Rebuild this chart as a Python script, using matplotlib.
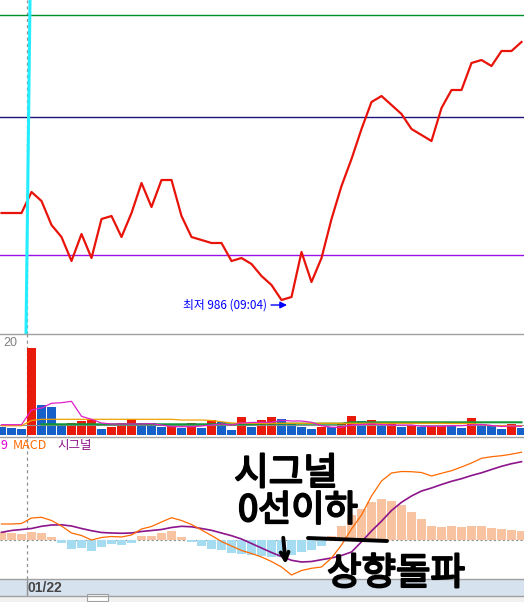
import matplotlib
matplotlib.use("Agg")
from matplotlib import pyplot as plt
import matplotlib.patheffects as pe
from matplotlib.transforms import offset_copy, blended_transform_factory
from matplotlib.patches import Rectangle, FancyArrowPatch
import numpy as np

plt.rcParams['font.family'] = ['Noto Sans CJK KR', 'DejaVu Sans']

# ---- data (one value per bar) ----
price = [1015, 1015, 1015, 1022, 1019, 1011, 1007, 999, 1008, 1000,
         1013, 1014, 1007, 1015, 1025, 1017, 1026, 1026, 1014, 1007,
         1006, 1005, 1005, 999, 1000, 998, 994, 991, 986, 987,
         1002, 992, 1000, 1013, 1024, 1033, 1043, 1052, 1054, 1051,
         1048, 1043, 1041, 1039, 1050, 1056, 1056, 1065, 1066, 1064,
         1069, 1069, 1072]
up = [0, 0, 0, 1, 0, 0, 0, 1, 1, 1,
      0, 1, 1, 1, 0, 0, 0, 1, 0, 1,
      0, 1, 0, 0, 1, 0, 1, 1, 0, 0,
      0, 0, 1, 0, 1, 1, 0, 1, 0, 1,
      0, 1, 0, 1, 1, 0, 0, 1, 0, 0,
      0, 1, 0]
volume = [1.7, 1.5, 1.3, 17.5, 6.0, 5.6, 1.8, 2.4, 2.9, 3.0,
          1.2, 1.6, 2.4, 3.2, 2.4, 2.4, 1.6, 2.0, 1.5, 2.4,
          1.5, 3.0, 2.6, 1.0, 3.6, 1.6, 3.0, 3.6, 3.2, 2.2,
          1.6, 1.2, 1.6, 1.6, 2.2, 3.8, 2.8, 3.0, 1.8, 2.4,
          1.6, 2.0, 1.6, 1.8, 2.0, 2.0, 1.4, 3.4, 2.2, 1.8,
          1.2, 2.2, 1.4]
vol_ma5 = [2.06, 2.06, 2.06, 5.0, 5.4, 6.34, 6.46, 6.74, 3.74, 3.14,
           2.4, 2.2, 2.2, 2.2, 2.2, 2.26, 2.0, 1.66, 1.66, 1.66,
           1.8, 2.0, 2.2, 2.0, 2.4, 2.5, 2.54, 2.54, 2.94, 2.8,
           2.8, 2.54, 1.86, 1.54, 1.54, 2.0, 2.1, 2.2, 2.1, 2.0,
           2.0, 2.0, 1.74, 1.74, 1.74, 1.86, 1.86, 2.0, 2.1, 1.9,
           1.7, 1.8, 1.74]
vol_ma20 = [1.86, 1.86, 1.86, 2.9, 3.14, 3.14, 3.14, 3.14, 3.14, 3.14,
            3.14, 3.14, 3.14, 3.14, 3.14, 3.14, 3.14, 3.14, 3.0, 3.0,
            3.0, 2.9, 2.66, 2.4, 2.34, 2.34, 2.34, 2.34, 2.34, 2.34,
            2.34, 2.34, 2.34, 2.34, 2.34, 2.34, 2.34, 2.34, 2.34, 2.34,
            2.34, 2.34, 2.34, 2.34, 2.34, 2.3, 2.3, 2.3, 2.1, 1.86,
            1.86, 1.86, 1.86]
vol_ma60 = [np.nan, np.nan, np.nan, np.nan, 2.14, 2.14, 2.14, 2.14, 2.14, 2.14,
            2.14, 2.14, 2.14, 2.14, 2.14, 2.14, 2.14, 2.14, 2.14, 2.14,
            2.14, 2.14, 2.14, 2.14, 2.14, 2.14, 2.26, 2.26, 2.26, 2.26,
            2.26, 2.26, 2.26, 2.26, 2.26, 2.54, 2.54, 2.54, 2.54, 2.54,
            2.54, 2.54, 2.54, 2.54, 2.54, 2.54, 2.54, 2.54, 2.54, 2.54,
            2.54, 2.54, 2.54]
vol_base = 2.05

macd = [1.60, 1.60, 1.65, 2.20, 2.27, 1.95, 1.40, 0.70, 0.45, 0.00,
        0.25, 0.35, 0.30, 0.50, 1.10, 1.35, 1.80, 2.23, 1.95, 1.55,
        1.00, 0.45, -0.15, -0.60, -1.05, -1.35, -1.70, -2.15, -2.70, -3.50,
        -3.05, -2.83, -2.70, -1.80, -0.50, 1.10, 2.50, 4.40, 5.90, 6.70,
        6.85, 6.83, 6.75, 6.40, 6.67, 6.93, 7.30, 7.70, 8.17, 8.33,
        8.43, 8.58, 8.78]
signal = [0.77, 0.95, 1.05, 1.15, 1.37, 1.50, 1.52, 1.40, 1.15, 0.93,
          0.75, 0.70, 0.67, 0.70, 0.85, 0.95, 1.05, 1.25, 1.37, 1.32,
          1.15, 0.97, 0.70, 0.43, 0.10, -0.35, -0.80, -1.25, -1.65, -2.03,
          -2.20, -2.15, -1.97, -1.80, -1.55, -1.20, -0.18, 0.90, 1.88, 2.95,
          3.77, 4.40, 4.90, 5.20, 5.55, 5.87, 6.13, 6.45, 6.72, 7.05,
          7.37, 7.63, 7.83]
hist = [0.77, 0.70, 0.60, 0.80, 0.70, 0.30, -0.30, -0.90, -0.80, -1.10,
        -0.70, -0.40, -0.50, -0.30, 0.40, 0.40, 0.70, 0.90, 0.30, -0.20,
        -0.60, -0.90, -1.00, -1.30, -1.40, -1.50, -1.60, -1.70, -1.70, -1.50,
        -1.20, -1.00, -0.60, 0.40, 1.40, 2.50, 3.10, 3.80, 4.10, 3.90,
        3.50, 2.80, 2.10, 1.40, 1.30, 1.40, 1.30, 1.40, 1.40, 1.20,
        1.10, 1.00, 0.90]

line_green = 1081
line_navy = 1047
line_purple = 1001
low_label = '최저 986 (09:04)'
date_label = '01/22'
day_start = 2.5
vol_scale_label = '20'
macd_labels = [('9', '#e000d8'), ('MACD', '#ff6a00'), ('시그널', '#8c148c')]
notes = ['시그널', '0선이하', '상향돌파']

# ---- figure layout (pixel based) ----
W, H = 524, 602
fig = plt.figure(figsize=(W / 100, H / 100), dpi=100)
fig.patch.set_facecolor('white')


def fx(px):
    return px / W


def fy(py):
    return 1 - py / H


idx = np.arange(len(price))
xlim = (-0.15, 52.25)

ax_p = fig.add_axes([0, fy(334), 1, 334 / H])
ax_v = fig.add_axes([0, fy(437), 1, 103 / H])
ax_m = fig.add_axes([0, fy(579), 1, 142 / H])
ax_d = fig.add_axes([0, fy(596), 1, 17 / H])
ax_s = fig.add_axes([0, 0, 1, 6 / H])

for ax in (ax_p, ax_v, ax_m, ax_d, ax_s):
    ax.set_xlim(*xlim)
    ax.set_xticks([])
    ax.set_yticks([])
    for s in ax.spines.values():
        s.set_visible(False)

# price panel
ax_p.set_ylim(974.67, 1086)
ax_p.axhline(line_green, color='#00902a', lw=1)
ax_p.axhline(line_navy, color='#1c1478', lw=1)
ax_p.axhline(line_purple, color='#9a10e8', lw=1)
ax_p.plot(idx, price, color='#e8140a', lw=1.6, zorder=3)
bt = blended_transform_factory(ax_p.transData, ax_p.transAxes)
ax_p.plot([day_start + 0.35, day_start - 0.05], [1, 0], transform=bt,
          color='#22eeff', lw=2.2, zorder=4)

li = int(np.argmin(price))
lp = price[li]
tr = offset_copy(ax_p.transData, fig=fig, x=5.5, y=-5, units='dots')
ax_p.annotate('', xy=(li, lp), xycoords=tr, xytext=(-16, 0),
              textcoords='offset pixels',
              arrowprops=dict(arrowstyle='-|>', color='#0000ff', lw=1,
                              mutation_scale=10, shrinkA=0, shrinkB=0))
ax_p.annotate(low_label, xy=(li, lp), xycoords=tr, xytext=(-20, 0),
              textcoords='offset pixels', ha='right', va='center',
              color='#0000ff', fontsize=8.5)

# volume panel
ax_v.set_ylim(-0.4, 20.2)
bar_cols = ['#e81a0c' if u else '#1660c9' for u in up]
ax_v.bar(idx, volume, width=0.9, color=bar_cols, zorder=2)
ax_v.axhline(vol_base, color='#909090', lw=0.8, zorder=3)
ax_v.plot(idx, vol_ma60, color='#109838', lw=1.5, zorder=4)
ax_v.plot(idx, vol_ma20, color='#f0a000', lw=0.9, zorder=4)
ax_v.plot(idx, vol_ma5, color='#e020c8', lw=0.9, zorder=5)
fig.text(fx(3), fy(342.5), vol_scale_label, ha='left', va='center',
         fontsize=9, color='#808080', family='Liberation Sans')

# macd panel
ax_m.set_ylim(-3.9, 10.3)
hist_cols = ['#f8c3a0' if h > 0 else '#a6dcf2' for h in hist]
ax_m.axhline(0, color='#909090', lw=0.8, ls=(0, (2, 2)), zorder=1)
ax_m.bar(idx, hist, width=0.9, color=hist_cols, zorder=2)
ax_m.plot(idx, signal, color='#8c148c', lw=1.2, zorder=3)
ax_m.plot(idx, macd, color='#ff6a00', lw=0.9, zorder=4)

xpos = [0.5, 13, 57]
for (t, c), x in zip(macd_labels, xpos):
    fig.text(fx(x), fy(445.5), t, ha='left', va='center', fontsize=9, color=c)

# day separator
for ax in (ax_p, ax_v, ax_m):
    ax.axvline(day_start, color='#909090', lw=0.9, ls=(0, (2.5, 2.5)), zorder=1.5)

# date strip
ax_d.set_facecolor('#d7e2ef')
ax_d.axvline(day_start, color='#909090', lw=1)
bd = blended_transform_factory(ax_d.transData, ax_d.transAxes)
ax_d.text(day_start + 0.15, 0.5, date_label, transform=bd, ha='left', va='center',
          fontsize=10, fontweight='bold', color='#454545', family='Liberation Sans')

# bottom scroll strip
ax_s.set_facecolor('#f1f1f1')
ax_s.add_patch(Rectangle((87 / W, 0.15), 21 / W, 1.2, transform=ax_s.transAxes,
                         facecolor='white', edgecolor='#a0a0a0', lw=0.8, clip_on=False))

# separators
for y in (334, 437, 579, 596):
    fig.add_artist(plt.Line2D([0, 1], [fy(y), fy(y)], transform=fig.transFigure,
                              color='#a0a0a0', lw=1))

# handwritten notes
stroke = [pe.withStroke(linewidth=1.5, foreground='black')]
note_pos = [(286, 474, 27), (298, 511, 26), (396, 574, 27)]
for t, (x, y, s) in zip(notes, note_pos):
    fig.text(fx(x), fy(y), t, ha='center', va='center', fontsize=s,
             color='black', path_effects=stroke)
fig.add_artist(plt.Line2D([fx(308), fx(387)], [fy(538), fy(541)],
                          transform=fig.transFigure, color='black', lw=2.8,
                          solid_capstyle='round'))
fig.add_artist(FancyArrowPatch((fx(283), fy(535)), (fx(286), fy(567)),
                               transform=fig.transFigure, arrowstyle='->',
                               mutation_scale=14, color='black', lw=2.8))

fig.savefig('out.png', dpi=100)
